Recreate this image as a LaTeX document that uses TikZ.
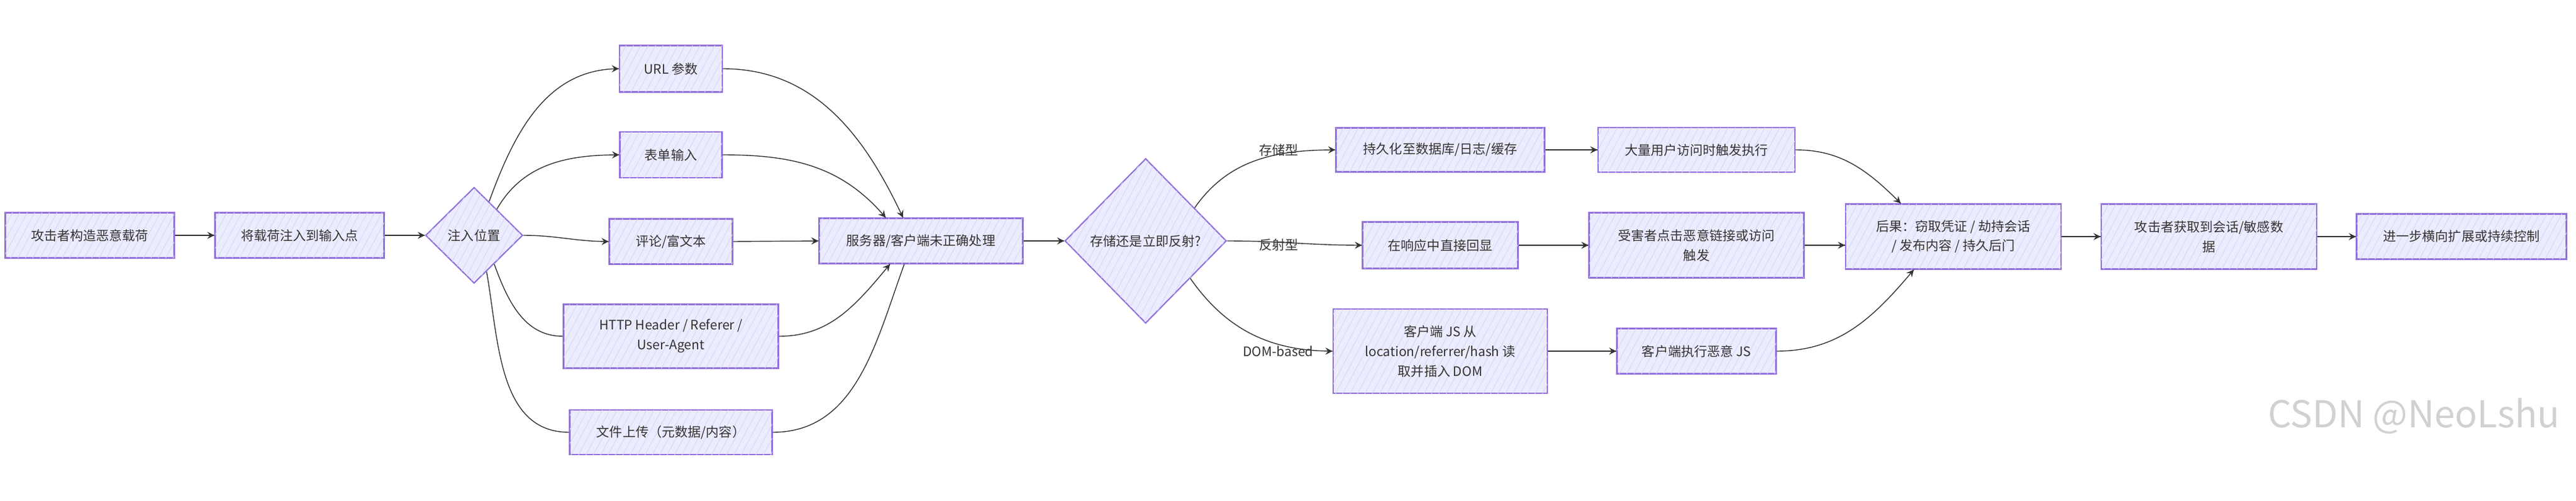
\documentclass[tikz,border=0pt]{standalone}
\usepackage{fontspec}
\setmainfont{Noto Sans CJK SC}
\usepackage{tikz}
\usetikzlibrary{arrows,decorations.markings,shapes.geometric,patterns.meta}
\definecolor{boxfill}{RGB}{236,236,255}
\definecolor{boxline}{RGB}{147,112,219}
\definecolor{hatch}{RGB}{214,214,248}
\definecolor{inktext}{RGB}{51,51,51}
\tikzstyle{basic} = [rectangle, minimum height=1.46cm, align=center, draw=boxline, line width=1.2pt, fill=boxfill, text=inktext, postaction={pattern={Lines[angle=62,distance=6pt,line width=0.5pt]}, pattern color=hatch}, font=\fontsize{12}{18.2}\selectfont]
\tikzstyle{decision} = [diamond, aspect=1, inner sep=0.1cm, align=center, draw=boxline, line width=1.2pt, fill=boxfill, text=inktext, postaction={pattern={Lines[angle=62,distance=6pt,line width=0.5pt]}, pattern color=hatch}, font=\fontsize{12}{18.2}\selectfont]
\tikzstyle{edgetext} = [inner sep=0pt, text=inktext, font=\fontsize{12}{18.2}\selectfont]

\begin{document}
\begin{tikzpicture}[node distance=3cm]
        \tikzset{myptr/.style={draw=black!80, line width=0.8pt, decoration={markings,mark=at position 1 with %
    {\arrow[scale=1.6,>=stealth]{>}}},postaction={decorate}}}
        \useasboundingbox (0,0) rectangle (83.24,-16.16);

        \node (atk) [basic, minimum width=5.46cm] at (2.90,-7.60) {攻击者构造恶意载荷};
        \node (inject) [basic, minimum width=5.46cm, right of=atk, xshift=3.78cm] {将载荷注入到输入点};
        \node (loc) [decision, minimum width=3.14cm, minimum height=3.10cm, right of=inject, xshift=2.64cm] {注入位置};

        \node (cmt) [basic, minimum width=3.98cm, right of=loc, xshift=3.36cm, yshift=-0.2cm] {评论/富文本};
        \node (form) [basic, minimum width=3.30cm, minimum height=1.48cm, above of=cmt, yshift=-0.2cm] {表单输入};
        \node (url) [basic, minimum width=3.32cm, minimum height=1.50cm, above of=form, yshift=-0.22cm] {URL 参数};
        \node (hdr) [basic, minimum width=6.94cm, minimum height=2.06cm, below of=cmt, yshift=-0.06cm] {HTTP Header / Referer /\\User-Agent};
        \node (upl) [basic, minimum width=6.54cm, minimum height=1.44cm, below of=hdr, yshift=-0.1cm] {文件上传（元数据/内容）};

        \node (srv) [basic, minimum width=6.58cm, right of=cmt, xshift=5.08cm, yshift=0.02cm] {服务器/客户端未正确处理};
        \node (how) [decision, minimum width=5.22cm, minimum height=5.32cm, right of=srv, xshift=4.26cm] {存储还是立即反射?};

        \node (echo) [basic, minimum width=5.02cm, minimum height=1.50cm, right of=how, xshift=6.52cm, yshift=-0.14cm] {在响应中直接回显};
        \node (per) [basic, minimum width=6.74cm, minimum height=1.42cm, above of=echo, yshift=0.08cm] {持久化至数据库/日志/缓存};
        \node (domjs) [basic, minimum width=6.92cm, minimum height=2.72cm, below of=echo, yshift=-0.42cm] {客户端 JS 从\\location/referrer/hash 读\\取并插入 DOM};

        \node (lblstore) [edgetext, left of=per, xshift=-2.22cm] {存储型};
        \node (lblrefl) [edgetext, left of=echo, xshift=-2.22cm] {反射型};
        \node (lbldom) [edgetext, left of=domjs, xshift=-2.24cm] {DOM-based};

        \node (click) [basic, minimum width=6.94cm, minimum height=2.10cm, right of=echo, xshift=5.28cm] {受害者点击恶意链接或访问\\触发};
        \node (mass) [basic, minimum width=6.36cm, minimum height=1.44cm, above of=click, yshift=0.08cm] {大量用户访问时触发执行};
        \node (exec) [basic, minimum width=5.14cm, below of=click, yshift=-0.42cm] {客户端执行恶意 JS};

        \node (res) [basic, minimum width=6.96cm, minimum height=2.10cm, right of=click, xshift=5.30cm, yshift=0.28cm] {后果：窃取凭证 / 劫持会话\\/ 发布内容 / 持久后门};
        \node (gain) [basic, minimum width=6.96cm, minimum height=2.10cm, right of=res, xshift=5.26cm] {攻击者获取到会话/敏感数\\据};
        \node (next) [basic, minimum width=6.78cm, right of=gain, xshift=5.16cm] {进一步横向扩展或持续控制};

        \node (wm) [font=\fontsize{34}{34}\selectfont, text=black!18] at (78.0,-13.44) {CSDN @NeoLshu};

        \draw [myptr] (atk.east) -- (inject.west);
        \draw [myptr] (inject.east) -- (loc.west);

        \draw [myptr] (loc.66) to[out=70, in=180] (url.west);
        \draw [myptr] (loc.49) to[out=60, in=180] (form.west);
        \draw [myptr] (loc.east) to[out=0, in=180] (cmt.west);
        \draw [myptr] (loc.-55) to[out=-70, in=180] (hdr.west);
        \draw [myptr] (loc.-71) to[out=-80, in=180] (upl.west);

        \draw [myptr] (url.east) to[out=0, in=115] ([xshift=-0.58cm]srv.north);
        \draw [myptr] (form.east) to[out=0, in=130] ([xshift=-1.14cm]srv.north);
        \draw [myptr] (cmt.east) -- (srv.west);
        \draw [myptr] (hdr.east) to[out=0, in=-130] ([xshift=-1.00cm]srv.south);
        \draw [myptr] (upl.east) to[out=0, in=-110] ([xshift=-0.54cm]srv.south);

        \draw [myptr] (srv.east) -- (how.west);
        \draw [myptr] (how.34) to[out=55, in=180] (per.west);
        \draw [myptr] (how.east) to[out=0, in=180] (echo.west);
        \draw [myptr] (how.-40) to[out=-55, in=180] (domjs.west);

        \draw [myptr] (per.east) -- (mass.west);
        \draw [myptr] (echo.east) -- (click.west);
        \draw [myptr] (domjs.east) -- (exec.west);

        \draw [myptr] (mass.east) to[out=0, in=135] ([xshift=-1.70cm]res.north);
        \draw [myptr] (click.east) -- (click.east -| res.west);
        \draw [myptr] (exec.east) to[out=0, in=-130] ([xshift=-1.28cm]res.south);

        \draw [myptr] (res.east) -- (gain.west);
        \draw [myptr] (gain.east) -- (next.west);
    \end{tikzpicture}
\end{document}
